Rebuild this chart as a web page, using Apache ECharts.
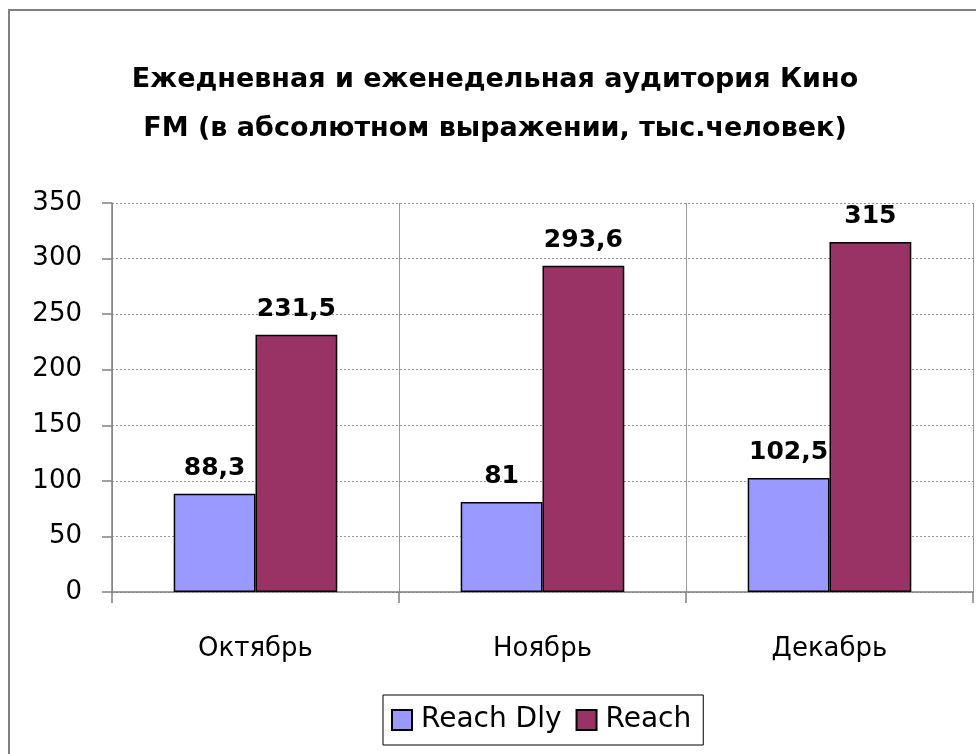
<!DOCTYPE html>
<html>
<head>
<meta charset="utf-8">
<script src="https://cdn.jsdelivr.net/npm/echarts@6/dist/echarts.min.js"></script>
<style>
  html, body { margin: 0; padding: 0; background: #fff; }
  #chart { width: 976px; height: 754px; }
</style>
</head>
<body>
<div id="chart"></div>
<script>
const months = ['Октябрь', 'Ноябрь', 'Декабрь']
const reachDly = [88.3, 81, 102.5]
const reach = [231.5, 293.6, 315]
const seriesNames = ['Reach Dly', 'Reach']

const font = 'DejaVu Sans'
const fmt = p => String(p.value).replace('.', ',')

let myChart = echarts.init(document.getElementById('chart'))
myChart.setOption({
  backgroundColor: '#fff',
  animation: false,
  graphic: [{
    type: 'rect',
    shape: { x: 9, y: 10, width: 1000, height: 800 },
    style: { fill: 'none', stroke: '#808080', lineWidth: 2 }
  }],
  title: {
    text: 'Ежедневная и еженедельная аудитория Кино\nFM (в абсолютном выражении, тыс.человек)',
    left: 490,
    textAlign: 'center',
    top: 50,
    textStyle: {
      fontFamily: font,
      fontWeight: 'bold',
      fontSize: 27,
      lineHeight: 49,
      color: '#000'
    }
  },
  legend: {
    data: seriesNames,
    left: 383,
    top: 695,
    padding: [11, 12, 11, 8],
    borderColor: '#000',
    borderWidth: 1,
    itemWidth: 20,
    itemHeight: 20,
    itemGap: 14,
    icon: 'rect',
    textStyle: { fontFamily: font, fontSize: 28, color: '#000', padding: [0, 0, 0, 4] }
  },
  grid: {
    left: 112,
    right: 3,
    top: 203,
    bottom: 162
  },
  xAxis: {
    type: 'category',
    data: months,
    axisLine: { lineStyle: { color: '#808080', width: 1.5 } },
    axisTick: { show: true, length: 11, lineStyle: { color: '#808080', width: 1.5 } },
    axisLabel: { fontFamily: font, fontSize: 26, color: '#000', margin: 44 },
    splitLine: { show: true, lineStyle: { color: '#999', width: 1 } }
  },
  yAxis: {
    type: 'value',
    min: 0,
    max: 350,
    interval: 50,
    axisLine: { show: true, lineStyle: { color: '#808080', width: 1.5 } },
    axisTick: { show: true, length: 10, lineStyle: { color: '#808080', width: 1.5 } },
    axisLabel: { fontFamily: font, fontSize: 26, color: '#000', margin: 30 },
    splitLine: { show: true, lineStyle: { color: '#999', type: [2, 2], width: 1 } }
  },
  series: [{
    name: seriesNames[0],
    type: 'bar',
    data: reachDly,
    barGap: '0%',
    barCategoryGap: '43%',
    itemStyle: { color: '#9999FF', borderColor: '#000', borderWidth: 1.5 },
    label: {
      show: true, position: 'top', distance: 13, formatter: fmt,
      fontFamily: font, fontWeight: 'bold', fontSize: 25, color: '#000'
    }
  }, {
    name: seriesNames[1],
    type: 'bar',
    data: reach,
    barGap: '0%',
    barCategoryGap: '43%',
    itemStyle: { color: '#993366', borderColor: '#000', borderWidth: 1.5 },
    label: {
      show: true, position: 'top', distance: 13, formatter: fmt,
      fontFamily: font, fontWeight: 'bold', fontSize: 25, color: '#000'
    }
  }]
})
</script>
</body>
</html>
